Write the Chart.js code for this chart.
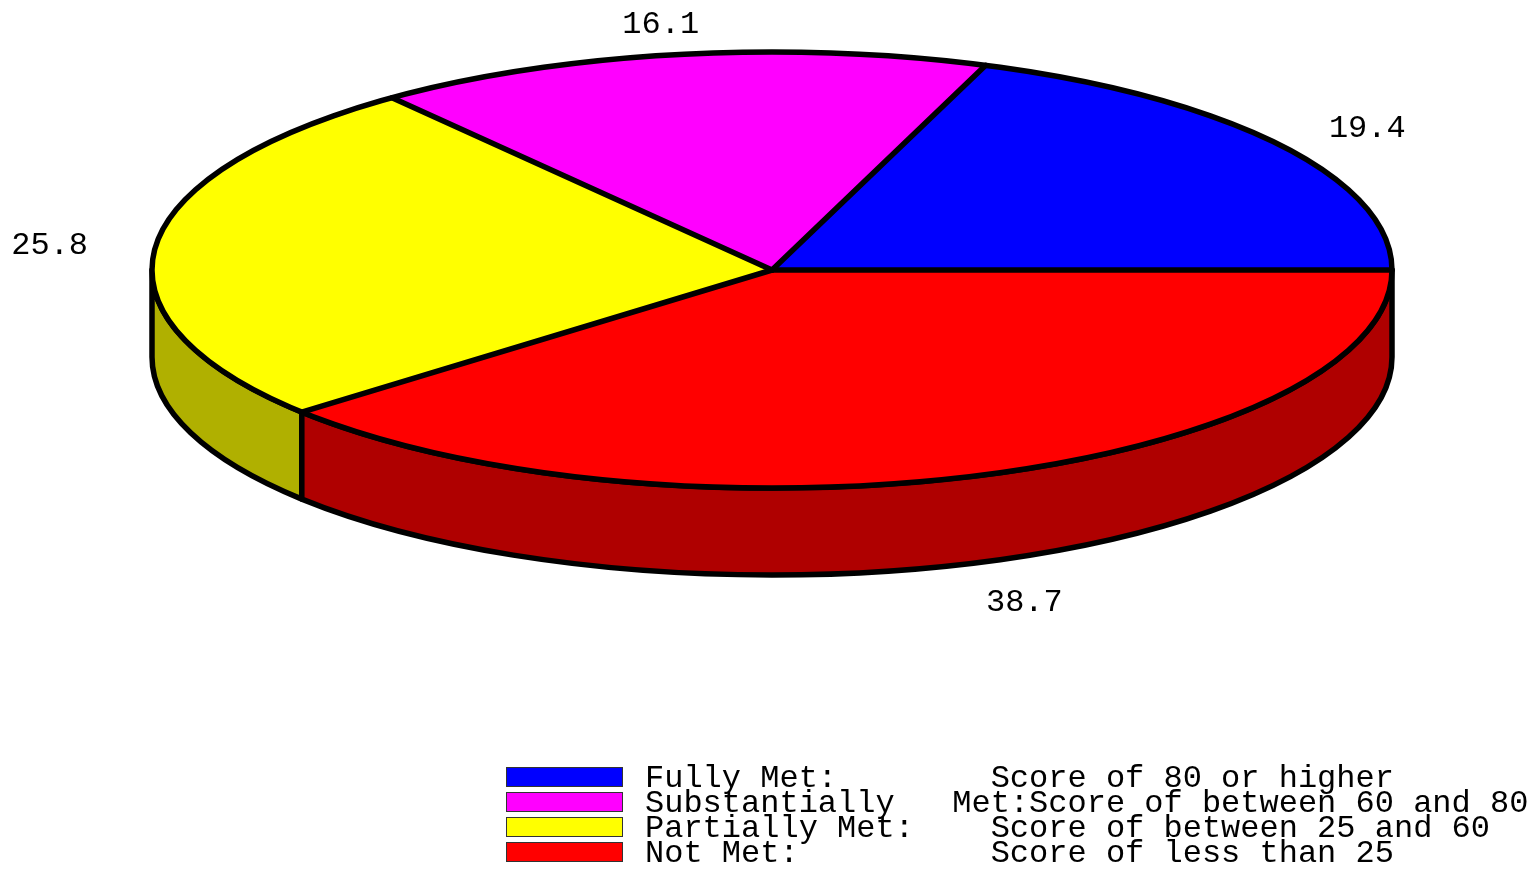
<!DOCTYPE html>
<html><head><meta charset="utf-8">
<script src="https://cdn.jsdelivr.net/npm/chart.js@4/dist/chart.umd.min.js"></script>
<style>html,body{margin:0;padding:0;background:#fff;} canvas{display:block;}</style>
</head><body>
<canvas id="c" width="1535" height="870"></canvas>
<script>
const categories = ["Fully Met:", "Substantially   Met:", "Partially Met:", "Not Met:"];
const descriptions = ["Score of 80 or higher", "Score of between 60 and 80", "Score of between 25 and 60", "Score of less than 25"];
const values = [19.4, 16.1, 25.8, 38.7];
const topColors = ["#0000ff", "#ff00ff", "#ffff00", "#ff0000"];
const sideColors = ["#0000af", "#af00af", "#b0b000", "#af0000"];

const GEOM = {cx: 772, cy: 270, rx: 620, ry: 218, depth: 87, labelRx: 726, labelRy: 248, labelDepth: 100};
const LEGEND = {x: 506, y: 767, boxW: 117, boxH: 20, step: 25, textX: 645, pad: 18};
const FONT = '32px "Liberation Mono", "Courier New", monospace';
const LINE_W = 5.5;

function ellipsePt(t, dy) {
  return [GEOM.cx + GEOM.rx * Math.cos(t), GEOM.cy + (dy || 0) - GEOM.ry * Math.sin(t)];
}

const pie3d = {
  id: 'pie3d',
  beforeDatasetDraw(chart, args) {
    const ctx = chart.ctx;
    const arcs = chart.getDatasetMeta(args.index).data;
    ctx.save();
    ctx.lineWidth = LINE_W; ctx.lineJoin = 'round'; ctx.strokeStyle = '#000';
    arcs.forEach((a, i) => {
      const s = a.startAngle, e = a.endAngle;
      for (let k = -1; k <= 1; k++) {
        const lo = Math.PI + k * 2 * Math.PI, hi = 2 * Math.PI + k * 2 * Math.PI;
        const t0 = Math.max(s, lo), t1 = Math.min(e, hi);
        if (t1 - t0 > 1e-6) {
          ctx.beginPath();
          ctx.ellipse(GEOM.cx, GEOM.cy, GEOM.rx, GEOM.ry, 0, -t0, -t1, true);
          const b = ellipsePt(t1, GEOM.depth);
          ctx.lineTo(b[0], b[1]);
          ctx.ellipse(GEOM.cx, GEOM.cy + GEOM.depth, GEOM.rx, GEOM.ry, 0, -t1, -t0, false);
          ctx.closePath();
          ctx.fillStyle = sideColors[i];
          ctx.fill();
          ctx.stroke();
        }
      }
    });
    ctx.restore();
    ctx.save();
    const a0 = arcs[0];
    ctx.translate(GEOM.cx, GEOM.cy);
    ctx.scale(GEOM.rx / a0.outerRadius, -GEOM.ry / a0.outerRadius);
    ctx.translate(-a0.x, -a0.y);
  },
  afterDatasetDraw(chart, args) {
    const ctx = chart.ctx;
    ctx.restore();
    const arcs = chart.getDatasetMeta(args.index).data;
    ctx.save();
    ctx.lineWidth = LINE_W; ctx.lineJoin = 'round'; ctx.lineCap = 'round'; ctx.strokeStyle = '#000';
    ctx.beginPath();
    ctx.ellipse(GEOM.cx, GEOM.cy, GEOM.rx, GEOM.ry, 0, 0, Math.PI * 2);
    ctx.stroke();
    arcs.forEach(a => {
      const p = ellipsePt(a.startAngle);
      ctx.beginPath();
      ctx.moveTo(GEOM.cx, GEOM.cy);
      ctx.lineTo(p[0], p[1]);
      ctx.stroke();
    });
    ctx.font = FONT; ctx.fillStyle = '#000';
    ctx.textAlign = 'center'; ctx.textBaseline = 'middle';
    arcs.forEach((a, i) => {
      const m = (a.startAngle + a.endAngle) / 2;
      const sn = Math.sin(m);
      const x = GEOM.cx + GEOM.labelRx * Math.cos(m);
      const y = GEOM.cy - GEOM.labelRy * sn + (sn < 0 ? GEOM.labelDepth : 0);
      ctx.fillText(values[i].toFixed(1), x, y);
    });
    ctx.restore();
  },
  afterDraw(chart) {
    const ctx = chart.ctx;
    ctx.save();
    ctx.font = FONT; ctx.textAlign = 'left'; ctx.textBaseline = 'alphabetic';
    categories.forEach((c, i) => {
      const y = LEGEND.y + i * LEGEND.step;
      ctx.fillStyle = topColors[i];
      ctx.fillRect(LEGEND.x, y, LEGEND.boxW, LEGEND.boxH);
      ctx.lineWidth = 1; ctx.strokeStyle = '#333';
      ctx.strokeRect(LEGEND.x + 0.5, y + 0.5, LEGEND.boxW - 1, LEGEND.boxH - 1);
      ctx.fillStyle = '#000';
      ctx.fillText(c.padEnd(LEGEND.pad) + descriptions[i], LEGEND.textX, y + LEGEND.boxH);
    });
    ctx.restore();
  }
};

new Chart(document.getElementById('c'), {
  type: 'pie',
  data: {
    labels: categories,
    datasets: [{ data: values, backgroundColor: topColors, borderWidth: 0, clip: false }]
  },
  options: {
    responsive: false,
    animation: false,
    events: [],
    rotation: 90,
    layout: { padding: 0 },
    plugins: { legend: { display: false }, tooltip: { enabled: false } }
  },
  plugins: [pie3d]
});
</script>
</body></html>
